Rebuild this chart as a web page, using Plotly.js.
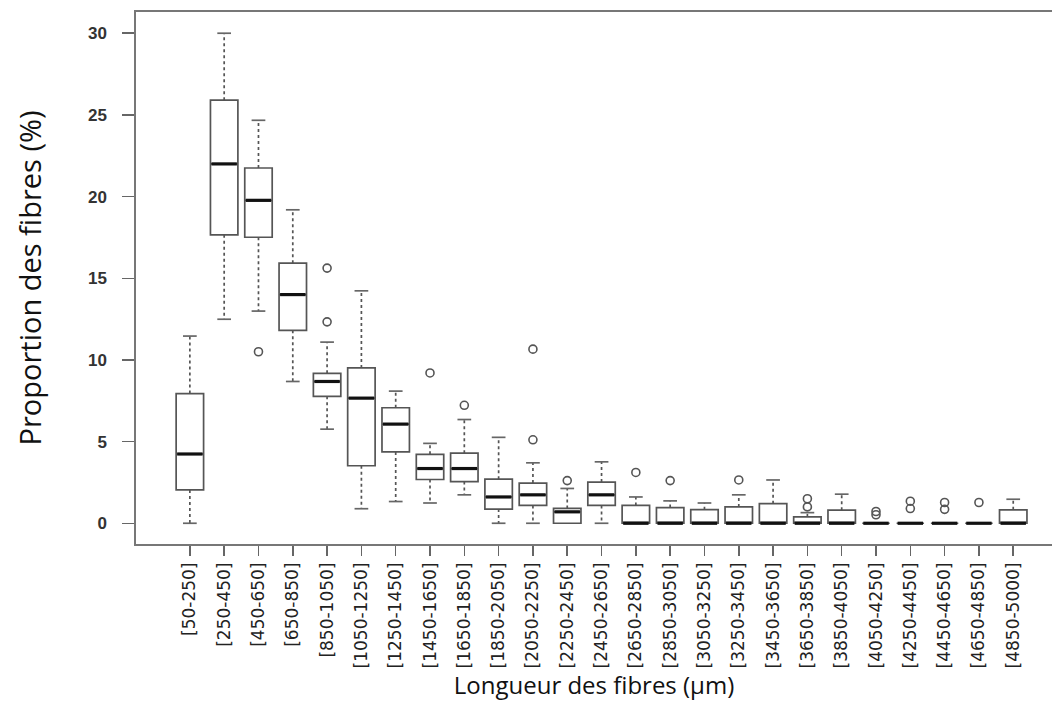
<!DOCTYPE html>
<html>
<head>
<meta charset="utf-8">
<script src="https://cdn.plot.ly/plotly-3.0.1.min.js"></script>
<style>html,body{margin:0;padding:0;background:#fff;}#chart{width:1052px;height:708px;}</style>
</head>
<body>
<div id="chart"></div>
<script>
const categories = ["[50-250]","[250-450]","[450-650]","[650-850]","[850-1050]","[1050-1250]","[1250-1450]","[1450-1650]","[1650-1850]","[1850-2050]","[2050-2250]","[2250-2450]","[2450-2650]","[2650-2850]","[2850-3050]","[3050-3250]","[3250-3450]","[3450-3650]","[3650-3850]","[3850-4050]","[4050-4250]","[4250-4450]","[4450-4650]","[4650-4850]","[4850-5000]"];
const lowerWhisker = [0, 12.49, 12.99, 8.68, 5.76, 0.89, 1.33, 1.24, 1.74, 0, 0, 0, 0, 0, 0, 0, 0, 0, 0, 0, 0, 0, 0, 0, 0];
const q1Values     = [2.04, 17.66, 17.51, 11.81, 7.77, 3.52, 4.37, 2.68, 2.55, 0.87, 1.09, 0, 1.09, 0, 0, 0, 0, 0, 0, 0, 0, 0, 0, 0, 0];
const medianValues = [4.24, 22.0, 19.77, 14.0, 8.68, 7.66, 6.07, 3.35, 3.35, 1.61, 1.74, 0.7, 1.74, 0, 0, 0, 0, 0, 0, 0, 0, 0, 0, 0, 0];
const q3Values     = [7.94, 25.9, 21.75, 15.92, 9.18, 9.51, 7.07, 4.22, 4.29, 2.7, 2.46, 0.91, 2.52, 1.09, 0.96, 0.83, 1.0, 1.2, 0.39, 0.8, 0, 0, 0, 0, 0.82];
const upperWhisker = [11.46, 30.0, 24.67, 19.19, 11.09, 14.23, 8.09, 4.89, 6.35, 5.26, 3.7, 2.13, 3.76, 1.61, 1.37, 1.24, 1.74, 2.65, 0.65, 1.78, 0, 0, 0, 0, 1.47];
const outlierValues = [[], [], [10.5], [], [15.62, 12.33], [], [], [9.2], [7.22], [], [10.66, 5.11], [2.61], [], [3.11], [2.61], [], [2.65], [], [1.5, 1.0], [], [0.72, 0.52], [1.35, 0.9], [1.27, 0.85], [1.27], []];
const yTicks = [0, 5, 10, 15, 20, 25, 30];

const idx = categories.map((_, i) => i);
const boxHalf = 0.4, capHalf = 0.2;

const wx = [], wy = [];
idx.forEach(i => {
  if (upperWhisker[i] > q3Values[i]) { wx.push(i, i, null); wy.push(q3Values[i], upperWhisker[i], null); }
  if (lowerWhisker[i] < q1Values[i]) { wx.push(i, i, null); wy.push(q1Values[i], lowerWhisker[i], null); }
});
const cx = [], cy = [];
idx.forEach(i => {
  if (upperWhisker[i] > q3Values[i]) { cx.push(i - capHalf, i + capHalf, null); cy.push(upperWhisker[i], upperWhisker[i], null); }
  if (lowerWhisker[i] < q1Values[i]) { cx.push(i - capHalf, i + capHalf, null); cy.push(lowerWhisker[i], lowerWhisker[i], null); }
});
const mx = [], my = [];
idx.forEach(i => { mx.push(i - boxHalf + 0.03, i + boxHalf - 0.03, null); my.push(medianValues[i], medianValues[i], null); });
const ox = [], oy = [];
outlierValues.forEach((arr, i) => arr.forEach(v => { ox.push(i); oy.push(v); }));

const traces = [
  {type: 'scatter', mode: 'lines', x: wx, y: wy, line: {color: '#555', width: 1.7, dash: '3px,3px'}, hoverinfo: 'skip', showlegend: false},
  {type: 'scatter', mode: 'lines', x: cx, y: cy, line: {color: '#666', width: 1.7}, hoverinfo: 'skip', showlegend: false},
  {type: 'box', x: idx, q1: q1Values, median: medianValues, q3: q3Values, lowerfence: q1Values, upperfence: q3Values,
   width: 2 * boxHalf, whiskerwidth: 0, fillcolor: 'rgba(255,255,255,0)', line: {color: '#555', width: 1.7},
   boxpoints: false, showlegend: false},
  {type: 'scatter', mode: 'lines', x: mx, y: my, line: {color: '#111', width: 3.2}, hoverinfo: 'skip', showlegend: false},
  {type: 'scatter', mode: 'markers', x: ox, y: oy, marker: {symbol: 'circle-open', size: 8, color: '#555', line: {width: 1.6, color: '#555'}}, showlegend: false}
];

const layout = {
  width: 1052, height: 708,
  margin: {l: 136, r: 0, t: 12, b: 164},
  paper_bgcolor: '#fff', plot_bgcolor: '#fff',
  showlegend: false,
  xaxis: {
    range: [-1.57, 25.13], tickmode: 'array', tickvals: idx, ticktext: categories,
    tickangle: -90, ticks: 'outside', ticklen: 10, tickwidth: 1.5, tickcolor: '#666',
    showline: true, mirror: true, linecolor: '#777', linewidth: 1.7,
    showgrid: false, zeroline: false,
    tickfont: {family: 'DejaVu Sans, sans-serif', size: 17, color: '#222'},
    title: {text: 'Longueur des fibres (µm)', font: {family: 'Open Sans, Noto Sans, sans-serif', size: 24, color: '#111'}, standoff: 8}
  },
  yaxis: {
    range: [-1.27, 31.3], tickmode: 'array', tickvals: yTicks,
    ticks: 'outside', ticklen: 12, tickwidth: 1.5, tickcolor: '#666',
    showline: true, mirror: true, linecolor: '#777', linewidth: 1.7,
    showgrid: false, zeroline: false,
    ticklabelstandoff: 12,
    tickfont: {family: 'Liberation Sans, Arial, sans-serif', size: 17, color: '#333', weight: 'bold'},
    title: {text: 'Proportion des fibres (%)', font: {family: 'Open Sans, Noto Sans, sans-serif', size: 29, color: '#111'}, standoff: 38}
  }
};

Plotly.newPlot('chart', traces, layout, {displayModeBar: false, staticPlot: true});
</script>
</body>
</html>
